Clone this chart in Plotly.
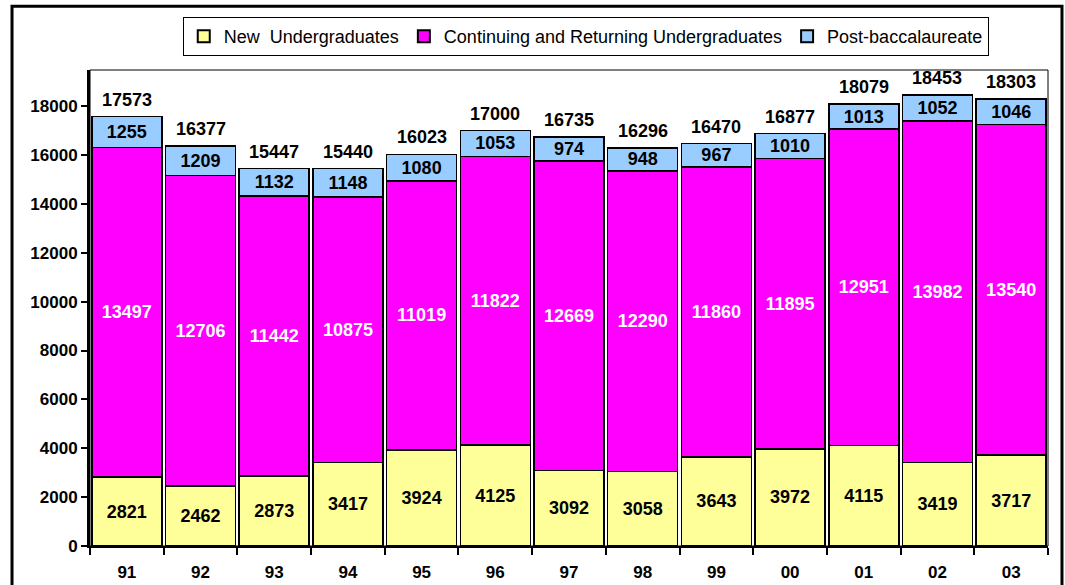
import plotly.graph_objects as go

years = ["91", "92", "93", "94", "95", "96", "97", "98", "99", "00", "01", "02", "03"]
new_ug = [2821, 2462, 2873, 3417, 3924, 4125, 3092, 3058, 3643, 3972, 4115, 3419, 3717]
cont_ug = [13497, 12706, 11442, 10875, 11019, 11822, 12669, 12290, 11860, 11895, 12951, 13982, 13540]
post_bac = [1255, 1209, 1132, 1148, 1080, 1053, 974, 948, 967, 1010, 1013, 1052, 1046]
totals = [a + b + c for a, b, c in zip(new_ug, cont_ug, post_bac)]

FONT = "Liberation Sans, Arial, sans-serif"
line = dict(color="black", width=1.5)
LBL = 18

fig = go.Figure()
fig.add_bar(x=years, y=new_ug, name="New  Undergraduates", marker=dict(color="#FFFF99", line=line),
            text=new_ug, texttemplate="<b>%{text}</b>", textposition="inside", insidetextanchor="middle",
            textangle=0, constraintext="none",
            textfont=dict(family=FONT, size=LBL, color="black"))
fig.add_bar(x=years, y=cont_ug, name="Continuing and Returning Undergraduates", marker=dict(color="#FF00FF", line=line),
            text=cont_ug, texttemplate="<b>%{text}</b>", textposition="inside", insidetextanchor="middle",
            textangle=0, constraintext="none",
            textfont=dict(family=FONT, size=LBL, color="white"))
fig.add_bar(x=years, y=post_bac, name="Post-baccalaureate", marker=dict(color="#99CCFF", line=line),
            text=post_bac, texttemplate="<b>%{text}</b>", textposition="inside", insidetextanchor="middle",
            textangle=0, constraintext="none",
            textfont=dict(family=FONT, size=LBL, color="black"))

# category positions on the x axis are the list indices
for i, tot in enumerate(totals):
    fig.add_annotation(x=i, y=tot, text=f"<b>{tot}</b>", showarrow=False,
                       yanchor="bottom", yshift=5, font=dict(family=FONT, size=LBL, color="black"))

fig.update_layout(
    width=1065, height=585,
    margin=dict(l=90, r=17, t=70, b=39, autoexpand=False),
    barmode="stack", bargap=0.05,
    plot_bgcolor="white", paper_bgcolor="white",
    font=dict(family=FONT, size=15, color="black"),
    legend=dict(orientation="h", xref="container", yref="container",
                x=0.55, xanchor="center", y=0.971, yanchor="top",
                bordercolor="black", borderwidth=1, font=dict(size=18, family=FONT),
                traceorder="normal", itemsizing="constant"),
    xaxis=dict(type="category", range=[-0.5, 12.5], autorange=False, automargin=False,
               showline=True, linecolor="black", linewidth=2,
               ticks="outside", tickson="boundaries", ticklen=7, tickcolor="black", tickwidth=1.5,
               tickfont=dict(size=17, family=FONT), showgrid=False,
               ticklabelstandoff=10, tickprefix="<b>", ticksuffix="</b>"),
    yaxis=dict(range=[0, 19480], autorange=False, automargin=False, dtick=2000,
               showline=True, linecolor="black", linewidth=3,
               ticks="outside", ticklen=6, tickcolor="black", tickwidth=1.5,
               tickfont=dict(size=17, family=FONT), showgrid=False, zeroline=False,
               tickformat="d", tickprefix="<b>", ticksuffix="</b>"),
    shapes=[
        dict(type="rect", xref="paper", yref="paper", x0=0, y0=0, x1=1, y1=1,
             line=dict(color="black", width=1), layer="below"),
        dict(type="rect", xref="paper", yref="paper", x0=-0.0814, y0=-0.2, x1=1.0146, y1=1.134,
             line=dict(color="black", width=3), layer="above"),
    ],
)

fig.write_html("out.html", config={"displayModeBar": False},
               post_script="document.body.style.margin='0px';document.body.style.padding='0px';")
